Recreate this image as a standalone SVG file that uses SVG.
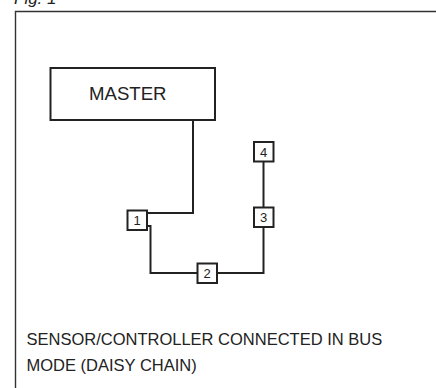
<svg xmlns="http://www.w3.org/2000/svg" width="436" height="388" viewBox="0 0 436 388">
<style>
.ln{fill:none;stroke:#222;stroke-width:2}
.bx{fill:#fff;stroke:#222;stroke-width:2}
.t{font-family:"Liberation Sans",Arial,sans-serif;fill:#222}
.n{font-size:13px;text-anchor:middle}
</style>
<rect width="436" height="388" fill="#fff"/>
<text class="t" x="14" y="3.5" font-size="17" font-style="italic">Fig. 1</text>
<path d="M15.5 400 V11.5 H450" fill="none" stroke="#333" stroke-width="1.4"/>
<g id="connectors">
<path class="ln" d="M193 120 V213 H147"/>
<path class="ln" d="M147 226 H150.5 V273 H197"/>
<path class="ln" d="M217 273 H263.5 V227"/>
<path class="ln" d="M263.5 207 V161"/>
</g>
<g id="master">
<rect class="bx" x="50.5" y="68" width="164.5" height="52" stroke-width="2.5"/>
<text class="t" x="89" y="100" font-size="18.6">MASTER</text>
</g>
<g id="node1">
<rect class="bx" x="127.5" y="210.5" width="19.5" height="19.5"/>
<text class="t n" x="137.2" y="225">1</text>
</g>
<g id="node2">
<rect class="bx" x="197.5" y="263.5" width="19.5" height="19.5"/>
<text class="t n" x="207.2" y="278">2</text>
</g>
<g id="node3">
<rect class="bx" x="254" y="207.5" width="19.5" height="19.5"/>
<text class="t n" x="263.7" y="222">3</text>
</g>
<g id="node4">
<rect class="bx" x="254" y="142" width="19.5" height="19.5"/>
<text class="t n" x="263.7" y="156.5">4</text>
</g>
<text class="t" x="26.5" y="345" font-size="16.5">SENSOR/CONTROLLER CONNECTED IN BUS</text>
<text class="t" x="26.5" y="371" font-size="16.5">MODE (DAISY CHAIN)</text>
</svg>
